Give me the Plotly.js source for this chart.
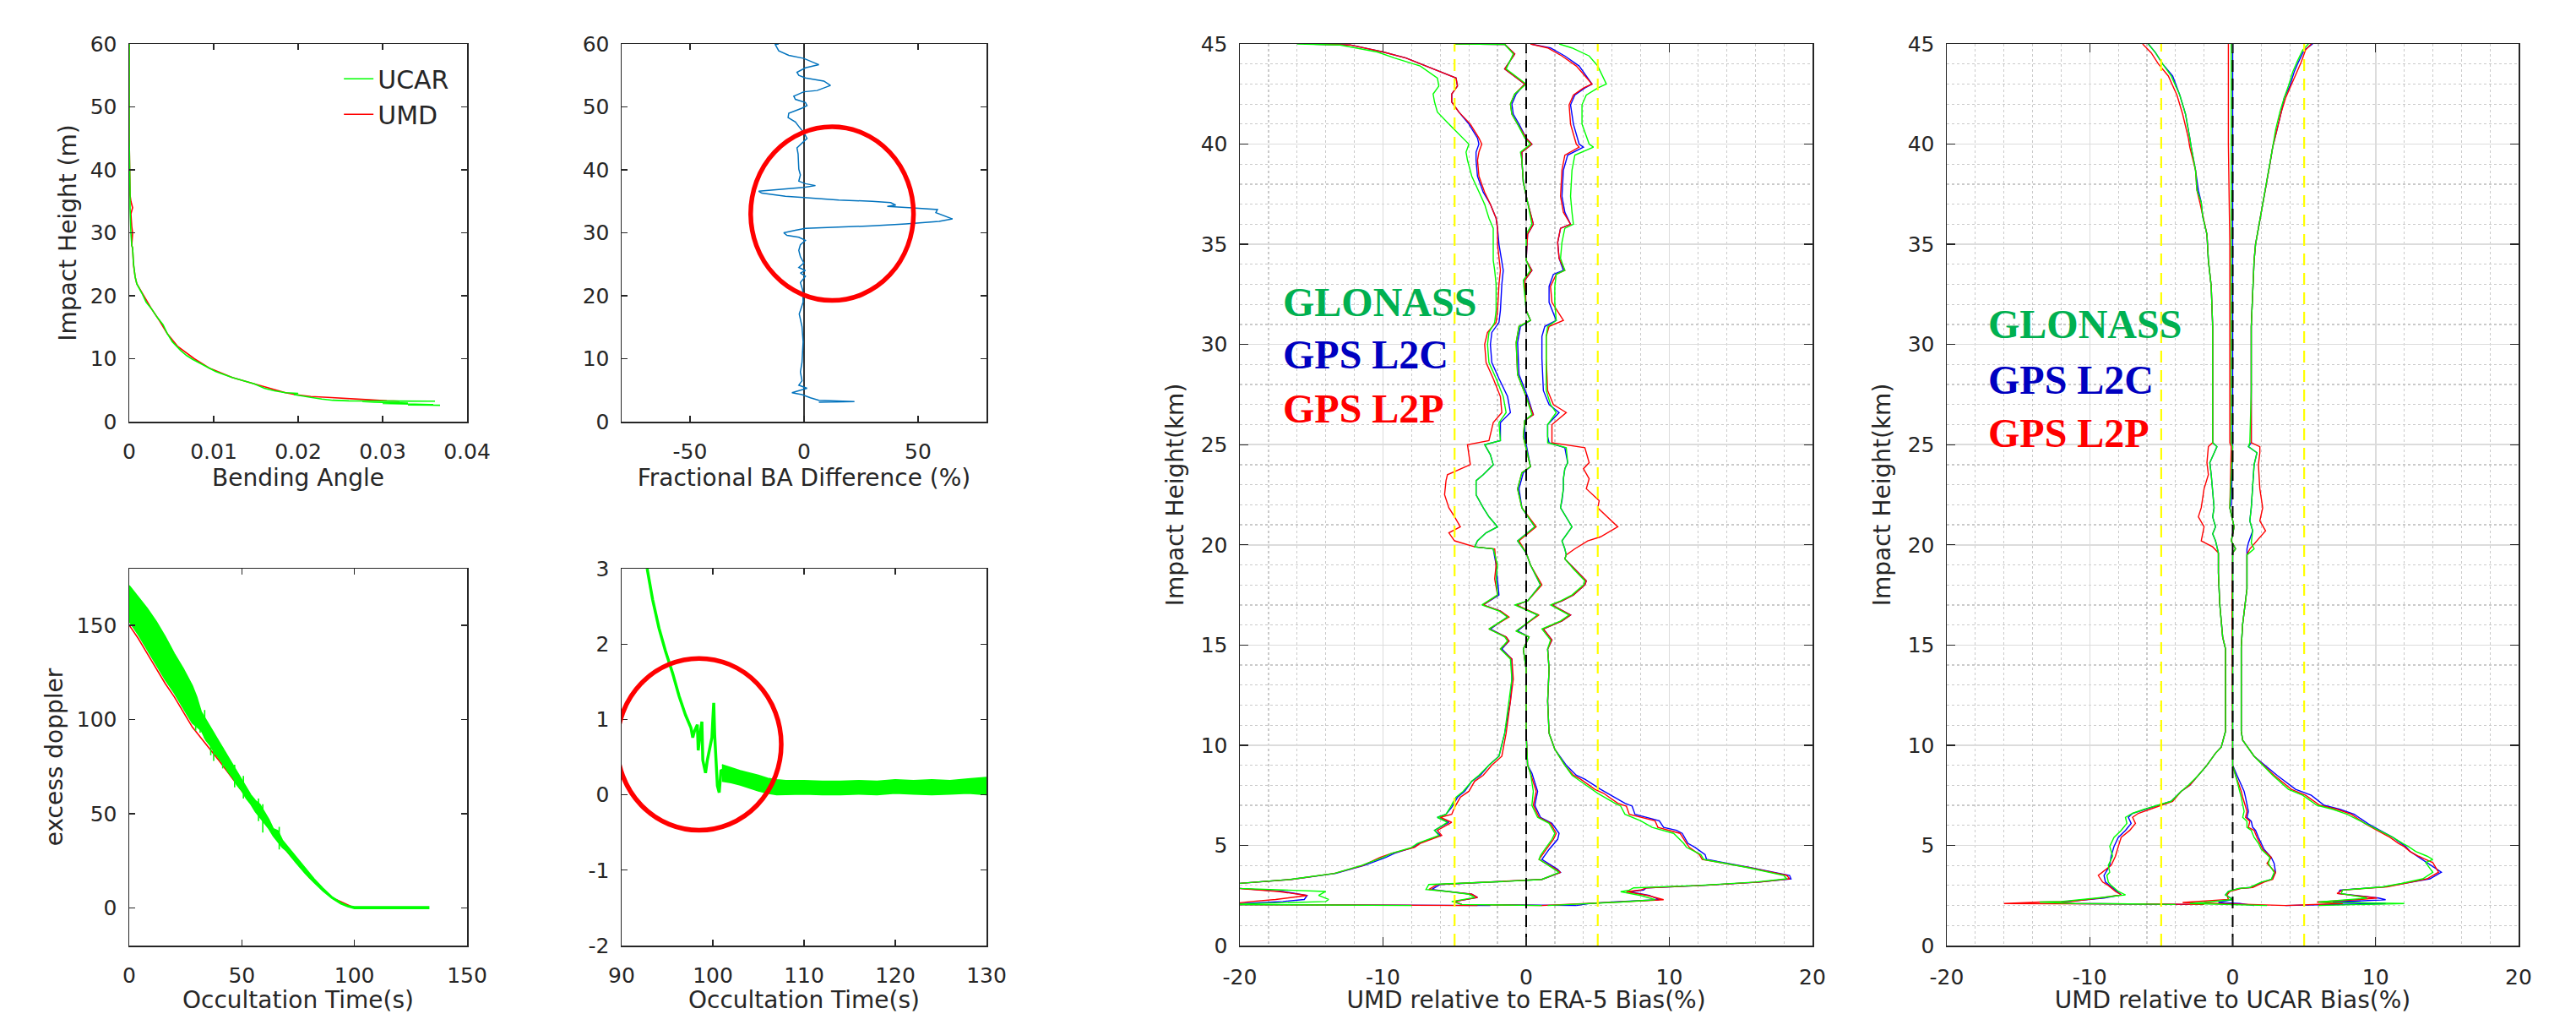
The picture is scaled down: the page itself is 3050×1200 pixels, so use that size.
<!DOCTYPE html>
<html><head><meta charset="utf-8">
<script src="https://cdn.plot.ly/plotly-3.0.1.min.js"></script>
<style>html,body{margin:0;padding:0;background:#fff;}#chart{width:3050px;height:1200px;}</style>
</head><body><div id="chart"></div>
<script>
// ---------------- Panel 1: bending angle vs impact height ----------------
const p1_h_ucar = [60,45,36,34,30,28,27.6,25.2,23,21.9,20.4,19,18,16.6,15.4,14,12.7,11.3,10.5,9.9,9.2,8.65,8,7.7,7,6.5,6,5.3,4.9,4.6,4.5,4.3,4.0,3.85,3.6,3.4,3.3,3.25,3.2,3.1,3.0,2.95,2.9,2.8,2.7,2.65,2.6];
const p1_a_ucar = [0,0,0.0001,0.0001,0.0002,0.0003,0.0004,0.0005,0.0007,0.0009,0.0015,0.002,0.0026,0.0033,0.004,0.0045,0.0051,0.0061,0.0068,0.0075,0.0085,0.0093,0.0102,0.0108,0.0122,0.0135,0.0148,0.016,0.0172,0.0185,0.0200,0.0195,0.0206,0.0215,0.0228,0.0241,0.026,0.0362,0.0276,0.029,0.0312,0.033,0.030,0.0347,0.036,0.033,0.0368];
const p1_h_umd = [60,45,36,35,34,33,31,30,28,27.6,25,23,21.9,20,18,16,14,12,10,8.5,7,6,5,4.6,4.3,4.0,3.85,3.7,3.5,3.3,3.25];
const p1_a_umd = [0,0,0.0001,0.0002,0.0004,0.0002,0.0003,0.0004,0.0003,0.0004,0.0005,0.0007,0.0009,0.0017,0.0026,0.0036,0.0045,0.0057,0.0077,0.0095,0.0122,0.0148,0.0175,0.0185,0.0197,0.0215,0.0235,0.026,0.028,0.0305,0.032];
const p1_names = ['UCAR','UMD'];

// ---------------- Panel 2: fractional BA difference ----------------
const p2_h = [60,59.9,58.9,58.2,57.7,56.7,56.2,55.5,55.0,54.6,54.1,53.4,52.6,52.4,51.7,51.2,50.7,50.2,49.8,49.0,48.3,47.6,46.9,45.9,45.0,44.5,43.5,42.5,40.1,39.2,38.2,37.8,37.5,37.2,37.0,36.6,36.3,35.8,35.6,35.2,35.0,34.8,34.4,34.2,34.0,33.9,33.7,33.2,32.8,32.2,31.8,31.6,31.4,31.1,30.9,30.7,30.4,30.0,29.6,29.3,28.8,28.1,27.2,26.2,25.2,24.5,24.0,23.6,23.1,22.1,20.9,19.0,17.1,15.1,12.7,9.4,7.9,6.5,5.8,5.3,4.6,4.3,3.8,3.4,3.2,3.1];
const p2_d = [-11.1,-12.6,-11.1,-6.7,-0.1,6.5,0.6,-3.1,-2.3,0.6,8.7,11.6,5.7,-0.1,-4.5,-3.8,0.6,1.3,-0.9,-6.7,-7.0,-3.8,-2.3,-0.1,1.3,-0.1,-3.1,-2.6,-2.3,-1.6,-2.3,0.6,5.0,-0.1,-6.7,-19.9,-18.5,-8.2,-0.1,15.2,29.9,38,40.2,36.5,46,50.4,58.5,57.8,60.7,65.1,59.2,51.9,44.6,29.9,15.2,0.6,-3.8,-8.9,-7.5,-2.3,0.6,-1.6,-2.3,-1.6,-0.1,-2.3,0.6,-1.6,0.6,-1.6,-0.6,-0.4,-2.1,-0.9,-0.4,-0.9,-1.6,-0.9,-2.3,1.3,-5.3,-0.9,2.8,6.5,22.1,6.5];
const p2_zero_x = [0,0];
const p2_zero_y = [0,60];
// highlight ellipse (centre x, centre y, half-width, half-height)
const p2_ring = [12.3, 33.05, 35.7, 13.8];

// ---------------- Panel 3: excess doppler (noisy band) ----------------
const p3_t  = [0,4,8,12,16,20,24,28,30,32,34,36,38,40,42,44,46,48,50,52,54,56,58,60,62,64,66,68,70,74,78,82,86,90,94,97,100,110,120,133];
const p3_hi = [171,165,159,152,144,135,127,118,112,104,100,96,92,88,84,80,76,72,68,64,60,57,55,51,47,42,41,36,33,27,21,15.5,10.5,6,2.8,1.2,0.6,0.6,0.6,0.6];
const p3_lo = [152,145,137,129,121,114,106,98,96,94,89,86,82,79,76,72,69,65,62,58,55,51,48,45,42,38,35,32,30,24,18.5,13.5,9,5,2,0.6,-0.4,-0.4,-0.4,-0.4];
const p3_spike_t  = [29.5,31.5,33.5,36.2,37.5,41.5,46.8,50.7,57.4,59.3,66.6];
const p3_spike_hi = [110,105,105,94,90,85,76,70,58,55,43];
const p3_spike_lo = [94,93,90,81,78,74,64,58,46,40,31];
const p3_red_t = [0,4,8,12,16,20,24,28,32,40,50,60,66,70,80,90,100,133];
const p3_red   = [150,143,135,127,119,112,104,96,90,78,62,46,36,30,16,5.5,0,0];

// ---------------- Panel 4: zoom of excess doppler ----------------
const p4_t = [92.8,93.4,94.1,94.8,95.6,96.3,97.0,97.6,97.8,98.0,98.3,98.4,98.6,98.8,98.9,99.2,99.4,99.6,99.9,100.0,100.1,100.2,100.3,100.5,100.7,100.9,101.2];
const p4_d = [3.0,2.59,2.21,1.91,1.61,1.31,1.06,0.89,0.76,0.85,0.93,0.59,0.8,0.97,0.46,0.29,0.46,0.59,0.76,1.0,1.22,0.8,0.59,0.12,0.03,0.33,0.3];
const p4_band_t  = [101,102,103,104,105,106,107,108,110,112,114,116,118,120,122,124,126,128,130];
const p4_band_hi = [0.40,0.36,0.32,0.29,0.26,0.22,0.20,0.19,0.19,0.18,0.18,0.19,0.18,0.20,0.19,0.20,0.19,0.21,0.23];
const p4_band_lo = [0.18,0.16,0.13,0.09,0.05,0.02,0.0,0.0,0.01,0.0,0.0,0.01,0.0,0.02,0.01,0.0,0.01,0.02,0.0];
const p4_ring = [98.5, 0.67, 9.0, 1.14];

// ---------------- Panel 5: UMD relative to ERA-5 bias ----------------
const p5L_y = [45.0,44.95,44.6,44.3,43.9,43.3,42.9,42.5,42.1,41.6,41.0,40.3,40.0,39.6,39.2,38.4,37.6,37.0,36.3,35.8,35.0,34.2,33.7,33.0,31.7,31.1,30.6,30.0,29.1,28.3,27.4,26.6,26.1,25.2,25.0,24.5,24.0,23.5,23.2,22.5,21.85,21.4,20.9,20.6,20.2,19.9,19.8,19.0,18.3,17.5,17.0,16.7,16.4,15.8,15.4,15.2,14.8,14.3,13.3,12.2,10.6,9.45,9.0,8.5,8.2,7.7,7.4,6.9,6.55,6.4,6.15,5.75,5.5,5.1,4.9,4.6,4.4,4.0,3.6,3.3,3.05,2.9,2.85,2.7,2.5,2.3,2.2,2.05,2.0];
const p5L_red = [-15.5,-12.3,-10.0,-8.4,-7.0,-4.9,-4.8,-5.2,-5.2,-4.7,-3.9,-3.3,-3.1,-3.3,-3.4,-3.3,-2.9,-2.5,-2.1,-2.0,-2.0,-1.9,-1.8,-1.9,-2.0,-2.1,-2.7,-2.9,-2.8,-2.3,-1.8,-1.7,-2.3,-2.6,-4.1,-4.0,-3.9,-5.5,-5.6,-5.7,-5.4,-5.0,-4.6,-5.4,-5.0,-3.6,-2.2,-2.1,-2.2,-2.0,-3.0,-1.8,-1.2,-2.6,-1.4,-1.2,-1.8,-1.0,-0.9,-1.1,-1.4,-1.7,-2.4,-3.0,-3.6,-4.0,-4.6,-5.0,-5.2,-6.0,-5.2,-6.2,-5.9,-7.4,-7.8,-9.4,-10.2,-11.4,-13.4,-16.4,-21,-21,-20.0,-17.3,-15.3,-17.5,-19.2,-21,-3.4];
const p5L_blue = [-15.5,-12.3,-10.0,-8.4,-7.0,-4.9,-4.8,-5.2,-5.2,-4.7,-4.0,-3.4,-3.3,-3.5,-3.5,-3.4,-3.0,-2.5,-2.1,-2.0,-1.9,-1.7,-1.6,-1.7,-1.8,-1.9,-2.4,-2.5,-2.4,-1.9,-1.3,-1.1,-1.8,-1.8,-2.9,-2.5,-2.3,-3.0,-3.5,-3.5,-3.0,-2.6,-2.0,-2.8,-3.4,-3.6,-2.3,-2.1,-2.0,-1.9,-3.0,-1.8,-1.3,-2.5,-1.4,-1.2,-1.7,-1.0,-1.0,-1.1,-1.5,-1.9,-2.6,-3.2,-3.8,-4.3,-4.8,-5.2,-5.6,-6.2,-5.4,-6.4,-6.0,-7.5,-7.9,-9.2,-9.8,-11.3,-13.3,-16.4,-21,-21,-20.0,-17.0,-15.3,-15.5,-17.0,-21,-2.5];
const p5L_green = [-16.0,-13.0,-10.4,-9.2,-7.4,-6.2,-6.1,-6.5,-6.4,-6.2,-5.4,-4.4,-4.0,-4.2,-4.1,-3.8,-3.3,-2.9,-2.6,-2.3,-2.3,-2.3,-2.2,-2.1,-2.1,-2.2,-2.6,-2.7,-2.6,-2.1,-1.6,-1.4,-1.9,-1.8,-2.9,-2.5,-2.3,-3.0,-3.5,-3.5,-3.0,-2.6,-2.0,-2.8,-3.4,-3.6,-2.3,-2.0,-2.1,-2.0,-3.1,-1.9,-1.3,-2.6,-1.5,-1.3,-1.8,-1.1,-1.0,-1.2,-1.5,-1.9,-2.6,-3.3,-3.8,-4.4,-4.9,-5.3,-5.6,-6.2,-5.5,-6.4,-6.1,-7.6,-8.0,-9.4,-10.0,-11.5,-13.4,-16.5,-21,-21,-20.0,-14.0,-14.5,-13.8,-14.0,-21,-8.0];

const p5M_y = [45.0,44.98,44.5,43.75,43.0,42.5,42.0,41.5,41.0,40.3,40.0,39.6,39.2,38.1,37.1,36.0,35.5,34.2,33.7,33.2,31.7,31.2,30.9,30.1,28.5,27.4,26.5,26.2,25.4,23.9,23.6,22.8,21.85,20.9,20.2,19.6,19.0,18.0,17.2,17.0,16.5,15.7,15.4,14.8,13.8,12.2,10.6,9.0,8.6,7.7,7.0,6.4,6.1,5.6,5.3,4.8,4.5,4.3,3.8,3.65,3.3,3.2,3.05,2.8,2.7,2.56,2.4,2.2,2.05,2.0];
const p5M_red = [-5.0,-1.5,-0.8,-1.5,-0.1,-0.8,-1.1,-1.0,-0.6,0.0,0.4,-0.3,-0.3,-0.2,0.1,0.5,0.1,0.0,0.4,-0.1,0.0,0.3,-0.5,-0.7,-0.6,0.0,0.5,-0.1,-0.2,0.3,-0.3,-0.6,-0.3,0.7,-0.5,0.0,0.3,1.1,0.1,-0.7,0.9,-0.7,0.2,-0.2,0.0,0.0,0.0,0.1,0.3,0.7,0.5,0.9,1.7,2.1,1.9,1.4,1.1,0.9,2.1,2.4,1.1,-1.5,-6.2,-6.8,-5.4,-3.8,-3.4,-5.0,-4.5,1.1];
const p5M_blue = [-5.0,-1.5,-0.8,-1.5,-0.1,-0.7,-1.0,-0.9,-0.5,0.0,0.4,-0.3,-0.3,-0.2,0.1,0.5,0.1,0.0,0.4,-0.1,0.0,0.3,-0.4,-0.6,-0.5,0.1,0.5,-0.1,-0.1,0.3,-0.2,-0.5,-0.3,0.6,-0.6,0.0,0.3,1.0,0.1,-0.7,0.8,-0.6,0.2,-0.2,0.0,0.0,0.0,0.1,0.4,0.8,0.6,1.0,1.8,2.3,2.2,1.6,1.3,1.1,2.2,2.4,1.1,-1.5,-6.0,-6.6,-5.4,-3.8,-3.4,-5.0,-4.5,3.5];
const p5M_green = [-5.0,-1.5,-0.9,-1.4,0.0,-0.8,-1.1,-1.0,-0.6,-0.1,0.3,-0.4,-0.3,-0.2,0.1,0.4,0.0,0.0,0.3,-0.2,0.0,0.3,-0.5,-0.7,-0.6,0.0,0.4,-0.1,-0.2,0.3,-0.3,-0.6,-0.3,0.6,-0.6,0.0,0.3,1.0,0.1,-0.8,0.8,-0.7,0.2,-0.2,0.0,0.0,0.0,0.1,0.3,0.5,0.4,0.8,1.6,2.0,1.8,1.3,1.0,0.9,2.0,2.3,1.1,-1.5,-6.8,-7.0,-5.5,-4.0,-3.6,-5.2,-4.5,1.1];

const p5R_y = [45.0,44.8,44.4,43.9,43.0,42.8,42.45,41.96,41.0,40.0,39.85,39.45,38.7,37.4,36.6,36.0,35.8,35.1,34.3,33.7,33.5,32.9,32.1,31.2,30.9,30.4,29.3,27.7,27.0,26.6,26.0,25.4,25.1,24.85,24.1,23.8,23.3,22.8,22.2,21.85,20.9,20.4,20.2,19.8,19.5,19.3,18.8,18.2,18.0,17.5,17.2,17.0,16.5,16.2,15.8,15.25,14.8,13.8,12.2,10.6,9.8,9.0,8.5,8.3,7.8,7.6,7.1,6.96,6.55,6.23,5.9,5.75,5.6,5.1,4.9,4.54,4.3,3.9,3.5,3.33,3.17,3.0,2.88,2.77,2.69,2.5,2.37,2.29,2.17,2.1,2.0];
const p5R_red = [0.3,1.5,2.5,3.5,4.6,4.0,3.3,3.0,3.1,3.5,3.7,2.7,2.5,2.4,2.6,3.1,2.4,2.2,2.3,2.7,2.1,1.7,1.8,2.6,1.6,1.4,1.4,1.5,1.9,2.8,1.8,1.8,1.8,4.1,4.4,4.0,4.4,4.2,5.1,5.0,6.4,5.2,4.3,3.4,2.8,2.7,3.4,4.2,4.1,3.3,2.5,1.8,3.1,2.5,1.2,1.8,1.5,1.6,1.5,1.6,2.0,2.7,3.3,3.8,4.8,5.4,6.4,7.0,7.2,9.0,9.2,10.0,10.75,11.2,11.4,12.1,12.3,15.5,18.2,18.4,16.3,12.3,8.4,8.0,7.0,8.5,9.2,9.6,6.4,4.4,1.1];
const p5R_blue = [0.3,1.7,2.7,3.7,4.6,4.1,3.4,3.1,3.3,3.7,4.0,2.9,2.6,2.5,2.7,3.1,2.4,2.2,2.3,2.6,1.9,1.6,1.6,2.1,1.3,1.1,1.1,1.2,1.6,2.3,1.5,1.5,1.6,2.7,2.9,2.7,2.6,2.6,2.5,2.4,3.2,2.7,2.5,2.7,2.8,2.7,3.4,4.2,4.1,3.3,2.5,1.8,3.1,2.5,1.2,1.8,1.5,1.6,1.5,1.6,2.0,2.8,3.5,4.1,5.2,5.7,6.9,7.4,7.6,9.3,9.6,10.5,10.9,11.3,11.8,12.5,12.6,15.6,18.4,18.5,16.3,12.3,8.4,8.2,7.2,8.6,9.0,9.3,6.0,4.4,3.5];
const p5R_green = [2.3,3.2,4.4,5.0,5.6,5.0,4.2,3.9,3.9,4.4,4.7,3.4,3.2,3.1,3.2,3.3,2.7,2.5,2.4,2.7,2.1,2.0,2.0,2.1,1.5,1.4,1.4,1.4,1.7,2.1,1.5,1.5,1.5,2.8,2.9,2.7,2.6,2.6,2.5,2.4,3.2,2.7,2.5,2.7,2.8,2.7,3.3,4.1,4.0,3.2,2.4,1.7,3.0,2.4,1.1,1.7,1.5,1.6,1.5,1.6,2.0,2.7,3.2,3.6,4.6,5.0,6.2,6.6,6.9,8.0,8.8,9.6,10.3,11.0,11.2,12.2,12.4,15.4,18.0,18.2,16.0,12.0,7.5,7.2,6.6,8.0,8.6,9.0,6.6,4.8,1.5];

// ---------------- Panel 6: UMD relative to UCAR bias ----------------
const p6L_y = [45.0,44.56,44.0,43.4,42.45,41.5,40.3,39.85,38.7,37.7,37.1,36.4,35.5,34.2,32.9,30.9,27.7,25.1,24.9,24.1,23.5,22.8,21.85,21.4,20.9,20.55,20.2,19.9,19.6,18.6,17.0,15.4,14.8,12.2,10.7,9.9,9.6,9.0,8.5,8.0,7.7,7.2,7.0,6.8,6.6,6.4,6.1,5.75,5.4,4.95,4.46,4.0,3.66,3.5,3.17,3.0,2.7,2.53,2.37,2.2,2.17,2.1,2.08,2.05];
const p6L_red = [-6.3,-5.7,-5.2,-4.5,-3.9,-3.5,-3.1,-3.0,-2.6,-2.5,-2.3,-2.1,-1.8,-1.7,-1.5,-1.4,-1.4,-1.4,-1.7,-1.8,-1.7,-2.0,-2.2,-2.4,-2.0,-2.1,-2.2,-1.4,-1.0,-1.0,-0.9,-0.7,-0.5,-0.5,-0.5,-0.8,-1.2,-1.8,-2.4,-3.0,-3.6,-4.2,-5.0,-5.8,-6.6,-7.0,-6.8,-7.2,-7.8,-8.0,-8.2,-8.5,-9.1,-9.4,-9.1,-8.7,-8.2,-7.8,-9.3,-11.3,-13.4,-16.0,-7.0,-2.0];
const p6L_blue = [-5.9,-5.4,-4.9,-4.2,-3.7,-3.3,-3.0,-2.9,-2.6,-2.4,-2.2,-2.1,-1.8,-1.7,-1.5,-1.4,-1.4,-1.4,-1.1,-1.6,-1.5,-1.4,-1.3,-1.4,-1.2,-1.4,-1.2,-1.1,-1.0,-1.0,-0.9,-0.7,-0.5,-0.5,-0.5,-0.8,-1.2,-1.8,-2.4,-3.0,-3.6,-4.3,-5.2,-6.1,-7.0,-7.3,-7.1,-7.5,-8.0,-8.3,-8.5,-8.6,-8.9,-9.0,-8.9,-8.6,-8.1,-7.8,-9.0,-11.5,-12.0,-11.5,-8.0,-3.0];
const p6L_green = [-5.9,-5.4,-4.9,-4.3,-3.7,-3.3,-3.0,-2.9,-2.6,-2.5,-2.2,-2.1,-1.8,-1.7,-1.5,-1.4,-1.4,-1.4,-1.1,-1.6,-1.5,-1.4,-1.3,-1.4,-1.2,-1.4,-1.2,-1.1,-1.0,-1.0,-0.9,-0.7,-0.5,-0.5,-0.5,-0.8,-1.2,-1.8,-2.4,-3.1,-3.6,-4.3,-5.3,-6.2,-7.0,-7.5,-7.4,-7.8,-8.3,-8.6,-8.4,-8.7,-8.6,-8.8,-8.7,-8.5,-8.0,-7.5,-9.5,-12.0,-13.5,-11.0,-7.2,-4.0];

const p6M_y = [45.0,40.0,35.0,30.0,25.1,24.9,22.0,21.85,20.9,20.2,19.8,19.6,17.0,12.0,9.0,8.5,7.7,7.4,6.7,6.4,6.2,5.9,5.75,5.4,5.1,4.8,4.4,4.1,3.65,3.3,3.17,2.9,2.85,2.7,2.53,2.3,2.15,2.1,2.0];
const p6M_red = [-0.3,-0.3,-0.2,-0.2,-0.2,-0.1,-0.2,-0.2,0.1,-0.1,0.2,0.0,-0.05,0.0,0.0,0.2,0.6,0.7,1.0,0.9,1.2,1.1,1.5,1.7,1.9,2.1,2.7,2.4,3.0,2.8,2.2,1.4,0.6,-0.2,-0.4,-0.3,-3.5,-0.5,3.7];
const p6M_blue = [0.0,0.0,0.0,0.0,0.0,0.0,-0.1,-0.2,0.1,-0.1,0.2,0.0,0.0,0.0,0.0,0.3,0.8,0.9,1.1,1.0,1.3,1.4,1.6,1.8,2.0,2.2,2.7,2.9,3.0,2.7,2.1,1.3,0.5,-0.3,-0.5,0.0,-1.0,0.5,1.5];
const p6M_green = [-0.1,-0.1,-0.1,-0.1,-0.1,0.0,-0.2,-0.2,0.1,-0.1,0.2,0.0,0.0,0.0,0.0,0.2,0.5,0.6,0.8,0.7,1.0,1.0,1.3,1.5,1.8,2.0,2.6,2.5,2.9,2.7,2.0,1.2,0.4,-0.3,-0.5,0.0,-2.0,-3.0,2.4];

const p6R_y = [45.0,44.7,44.1,43.6,42.9,42.3,41.6,40.7,39.85,39.0,38.2,37.4,36.6,35.8,35.0,34.2,32.5,30.9,27.7,25.1,24.9,24.6,24.0,22.8,21.85,21.2,20.7,20.1,19.8,19.5,17.8,16.05,14.9,10.7,10.25,9.45,8.5,7.8,7.5,7.0,6.8,6.55,6.07,5.75,5.4,5.1,4.94,4.7,4.46,4.3,4.14,3.66,3.33,3.1,2.93,2.77,2.6,2.37,2.29,2.17,2.1,2.0];
const p6R_red = [5.5,5.1,4.8,4.5,4.1,3.7,3.4,3.1,2.8,2.6,2.4,2.2,2.0,1.8,1.6,1.5,1.4,1.3,1.3,1.3,1.9,1.9,1.8,1.9,2.1,1.9,2.3,1.6,1.2,1.0,1.0,0.7,0.6,0.6,0.7,1.5,2.9,4.1,5.1,6.1,7.3,8.3,9.3,10.1,11.0,11.6,12.0,12.4,13.0,13.5,14.0,14.4,13.6,12.0,10.8,7.7,7.3,10.1,8.7,5.9,7.7,3.7];
const p6R_blue = [5.6,5.0,4.6,4.3,4.0,3.6,3.4,3.1,2.8,2.6,2.4,2.2,2.0,1.8,1.6,1.5,1.4,1.3,1.3,1.3,1.1,1.7,1.5,1.4,1.3,1.2,1.4,1.1,1.0,1.0,1.0,0.7,0.6,0.6,0.7,1.5,3.1,4.4,5.5,6.4,7.5,8.5,9.5,10.3,11.2,11.8,12.1,12.4,12.9,13.2,13.6,14.6,13.8,11.8,10.6,7.5,7.4,10.2,10.7,7.0,10.7,3.7];
const p6R_green = [5.3,4.9,4.5,4.2,3.9,3.6,3.3,3.0,2.8,2.6,2.4,2.2,2.0,1.8,1.6,1.5,1.4,1.3,1.3,1.2,1.1,1.7,1.5,1.4,1.3,1.2,1.4,1.3,1.5,1.0,1.0,0.7,0.6,0.6,0.7,1.5,2.8,3.9,4.9,5.9,7.0,8.0,9.3,10.2,11.2,11.9,12.3,12.8,13.6,14.0,13.5,14.0,13.3,11.8,10.5,7.7,7.6,9.4,8.0,6.0,12.0,6.0];

// reference lines for panels 5 and 6
const ref_zero_x = [0,0];
const ref_band_x = [-5,5];
const ref_y = [0,45];

const bias_labels = ['GLONASS','GPS L2C','GPS L2P'];
const bias_label_colors = ['#00B050','#0000C0','#FF0000'];
const bias_ticks = [-20,-10,0,10,20];
const bias_ticktext = ['-20','-10','0','10','20'];
const p2_ticks = [-50,0,50];
const p2_ticktext = ['-50','0','50'];
const p4_yticks = [-2,-1,0,1,2,3];
const p4_yticktext = ['-2','-1','0','1','2','3'];

// ---------------- build ----------------
const GREEN='#00ff00', RED='#ff0000', BLUE='#0000ff', TXT='#262626';
function ln(x,y,xa,ya,color,width,extra){
  return Object.assign({type:'scatter',mode:'lines',x:x,y:y,xaxis:xa,yaxis:ya,
    line:{color:color,width:width},showlegend:false,hoverinfo:'skip'},extra||{});
}
function band(t,hi,lo,xa,ya,color){
  return {type:'scatter',mode:'lines',x:t.concat(t.slice().reverse()),y:hi.concat(lo.slice().reverse()),
    xaxis:xa,yaxis:ya,fill:'toself',fillcolor:color,line:{color:color,width:1.5},showlegend:false,hoverinfo:'skip'};
}
function spikes(t,hi,lo){
  const xs=[], ys=[];
  t.forEach(function(v,i){ xs.push(v,v,null); ys.push(hi[i],lo[i],null); });
  return [xs,ys];
}
const traces = [];
traces.push(ln(p1_a_umd,p1_h_umd,'x','y',RED,1.6,{name:p1_names[1],showlegend:true}));
traces.push(ln(p1_a_ucar,p1_h_ucar,'x','y',GREEN,1.6,{name:p1_names[0],showlegend:true}));
traces.push(ln(p2_zero_x,p2_zero_y,'x2','y2','#000000',1.6));
traces.push(ln(p2_d,p2_h,'x2','y2','#0072BD',1.5));
traces.push(ln(p3_red_t,p3_red,'x3','y3',RED,1.6));
traces.push(band(p3_t,p3_hi,p3_lo,'x3','y3',GREEN));
const sp = spikes(p3_spike_t,p3_spike_hi,p3_spike_lo);
traces.push(ln(sp[0],sp[1],'x3','y3',GREEN,1.6,{connectgaps:false}));
traces.push(ln(p4_t,p4_d,'x4','y4',GREEN,3.5));
traces.push(band(p4_band_t,p4_band_hi,p4_band_lo,'x4','y4',GREEN));

const sets = [
  ['x5','y5',[[p5L_y,p5L_blue,p5L_red,p5L_green],[p5M_y,p5M_blue,p5M_red,p5M_green],[p5R_y,p5R_blue,p5R_red,p5R_green]]],
  ['x6','y6',[[p6L_y,p6L_blue,p6L_red,p6L_green],[p6M_y,p6M_blue,p6M_red,p6M_green],[p6R_y,p6R_blue,p6R_red,p6R_green]]]
];
sets.forEach(function(s){
  s[2].forEach(function(c){
    traces.push(ln(c[1],c[0],s[0],s[1],BLUE,1.4));
    traces.push(ln(c[2],c[0],s[0],s[1],RED,1.4));
    traces.push(ln(c[3],c[0],s[0],s[1],GREEN,1.4));
  });
  ref_band_x.forEach(function(v){
    traces.push(ln([v,v],ref_y,s[0],s[1],'#ffff00',2.2,{line:{color:'#ffff00',width:2.2,dash:'14px,9px'}}));
  });
  traces.push(ln(ref_zero_x,ref_y,s[0],s[1],'#000000',2,{line:{color:'#000000',width:2,dash:'14px,8px'}}));
});

const TF = {family:'DejaVu Sans',size:25,color:TXT};
const TTF = {family:'DejaVu Sans',size:28,color:TXT};
function box(dom,range,extra){
  return Object.assign({domain:dom,range:range,showline:true,mirror:'ticks',linecolor:TXT,linewidth:1.5,
    ticks:'inside',ticklen:7,tickwidth:1.3,tickcolor:TXT,showgrid:false,zeroline:false,
    tickfont:TF,ticklabelstandoff:8,fixedrange:true},extra||{});
}
function gridbox(dom,range,minorD,extra){
  return box(dom,range,Object.assign({showgrid:true,gridcolor:'#dcdcdc',gridwidth:1.5,ticklen:10,
    minor:{dtick:minorD,showgrid:true,gridcolor:'#cacaca',griddash:'dot',gridwidth:1.2,ticks:''}},extra||{}));
}
const X1=[153/3050,553/3050], X2=[736/3050,1168/3050], X5=[1468/3050,2146/3050], X6=[2305/3050,2982/3050];
const YT=[1-499/1200,1-52/1200], YB=[1-1119/1200,1-673/1200], YF=[1-1119/1200,1-52/1200];

const annotations = [];
[['x5','y5',-17.1,[32.1,29.5,26.8]],['x6','y6',-17.2,[31.0,28.25,25.6]]].forEach(function(a){
  bias_labels.forEach(function(t,i){
    annotations.push({xref:a[0],yref:a[1],x:a[2],y:a[3][i],text:t,showarrow:false,xanchor:'left',yanchor:'middle',
      font:{family:'Liberation Serif',size:48,color:bias_label_colors[i],weight:700}});
  });
});

const shapes = [
  {type:'circle',xref:'x2',yref:'y2',x0:p2_ring[0]-p2_ring[2],x1:p2_ring[0]+p2_ring[2],y0:p2_ring[1]-p2_ring[3],y1:p2_ring[1]+p2_ring[3],line:{color:'#ff0000',width:5.5}},
  {type:'circle',xref:'x4',yref:'y4',x0:p4_ring[0]-p4_ring[2],x1:p4_ring[0]+p4_ring[2],y0:p4_ring[1]-p4_ring[3],y1:p4_ring[1]+p4_ring[3],line:{color:'#ff0000',width:5.5}}
];

const layout = {
  width:3050,height:1200,margin:{l:0,r:0,t:0,b:0},paper_bgcolor:'#ffffff',plot_bgcolor:'#ffffff',
  font:{family:'DejaVu Sans',color:TXT},
  showlegend:true,
  legend:{x:0.1335,y:0.944,xanchor:'left',yanchor:'top',bgcolor:'rgba(0,0,0,0)',traceorder:'reversed',
    font:{family:'DejaVu Sans',size:30,color:TXT},itemwidth:30,tracegroupgap:0},
  xaxis: box(X1,[0,0.04],{anchor:'y',dtick:0.01,tick0:0,ticklabelstandoff:12,title:{text:'Bending Angle',font:TTF,standoff:8}}),
  yaxis: box(YT,[0,60],{anchor:'x',dtick:10,title:{text:'Impact Height (m)',font:TTF,standoff:8}}),
  xaxis2: box(X2,[-80,80],{anchor:'y2',tickvals:p2_ticks,ticktext:p2_ticktext,ticklabelstandoff:12,title:{text:'Fractional BA Difference (%)',font:TTF,standoff:8}}),
  yaxis2: box(YT,[0,60],{anchor:'x2',dtick:10}),
  xaxis3: box(X1,[0,150],{anchor:'y3',dtick:50,ticklabelstandoff:12,title:{text:'Occultation Time(s)',font:TTF,standoff:8}}),
  yaxis3: box(YB,[-20,180],{anchor:'x3',tickvals:[0,50,100,150],title:{text:'excess doppler',font:TTF,standoff:8}}),
  xaxis4: box(X2,[90,130],{anchor:'y4',dtick:10,ticklabelstandoff:12,title:{text:'Occultation Time(s)',font:TTF,standoff:8}}),
  yaxis4: box(YB,[-2,3],{anchor:'x4',tickvals:p4_yticks,ticktext:p4_yticktext}),
  xaxis5: gridbox(X5,[-20,20],2,{anchor:'y5',tickvals:bias_ticks,ticktext:bias_ticktext,ticklabelstandoff:14,title:{text:'UMD relative to ERA-5 Bias(%)',font:TTF,standoff:10}}),
  yaxis5: gridbox(YF,[0,45],1,{anchor:'x5',dtick:5,title:{text:'Impact Height(km)',font:TTF,standoff:12}}),
  xaxis6: gridbox(X6,[-20,20],2,{anchor:'y6',tickvals:bias_ticks,ticktext:bias_ticktext,ticklabelstandoff:14,title:{text:'UMD relative to UCAR Bias(%)',font:TTF,standoff:10}}),
  yaxis6: gridbox(YF,[0,45],1,{anchor:'x6',dtick:5,title:{text:'Impact Height(km)',font:TTF,standoff:12}}),
  annotations:annotations,
  shapes:shapes
};
function stretchLegendLines(){
  document.querySelectorAll('#chart .legend path.js-line, #chart .legend .legendlines path').forEach(function(p){
    p.setAttribute('d','M-25,0h60');
  });
}
const gdEl = document.getElementById('chart');
Plotly.newPlot(gdEl,traces,layout,{staticPlot:true,displayModeBar:false}).then(function(){
  stretchLegendLines();
  setTimeout(stretchLegendLines,50);
});
stretchLegendLines();
gdEl.on && gdEl.on('plotly_afterplot',stretchLegendLines);
</script></body></html>
